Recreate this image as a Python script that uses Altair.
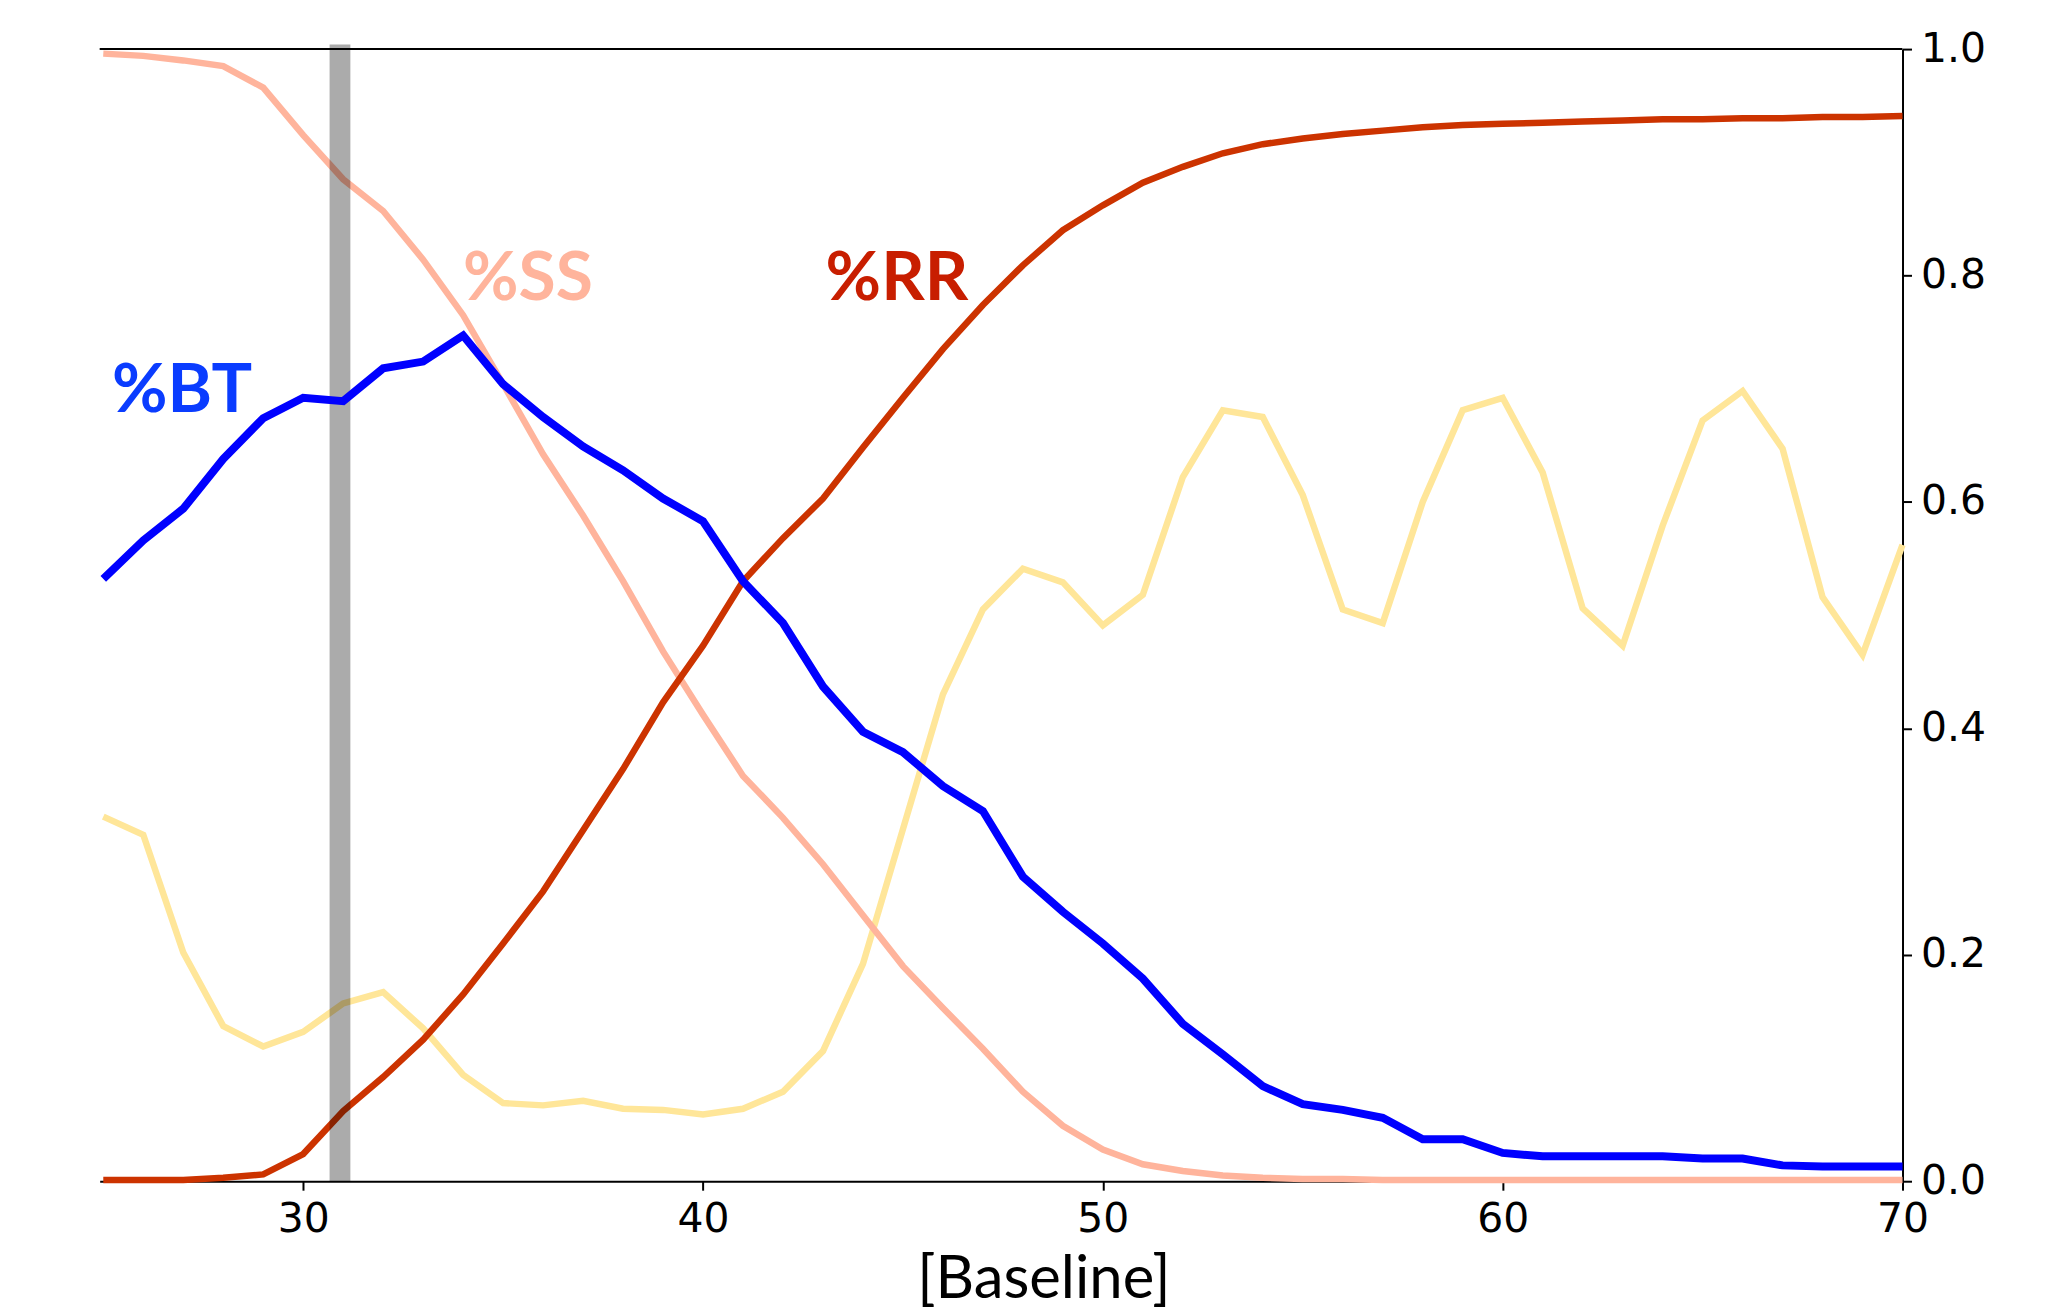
import altair as alt
import pandas as pd

# ---- data ----
baseline = list(range(25, 71))

pct_bt = [0.532, 0.566, 0.594, 0.638, 0.674, 0.692, 0.689, 0.718, 0.724, 0.747,
          0.704, 0.675, 0.649, 0.628, 0.603, 0.583, 0.530, 0.493, 0.437, 0.397,
          0.379, 0.349, 0.327, 0.269, 0.238, 0.210, 0.179, 0.139, 0.112, 0.084,
          0.068, 0.063, 0.056, 0.037, 0.037, 0.025, 0.022, 0.022, 0.022, 0.022,
          0.020, 0.020, 0.014, 0.013, 0.013, 0.013]

pct_rr = [0.001, 0.001, 0.001, 0.003, 0.006, 0.024, 0.062, 0.092, 0.125, 0.165,
          0.210, 0.256, 0.310, 0.364, 0.423, 0.473, 0.530, 0.568, 0.603, 0.648,
          0.692, 0.735, 0.774, 0.809, 0.840, 0.862, 0.882, 0.896, 0.908, 0.916,
          0.921, 0.925, 0.928, 0.931, 0.933, 0.934, 0.935, 0.936, 0.937, 0.938,
          0.938, 0.939, 0.939, 0.940, 0.940, 0.941]

pct_ss = [0.996, 0.994, 0.990, 0.985, 0.966, 0.924, 0.885, 0.857, 0.814, 0.765,
          0.704, 0.642, 0.588, 0.530, 0.468, 0.412, 0.358, 0.321, 0.280, 0.235,
          0.190, 0.153, 0.117, 0.079, 0.049, 0.028, 0.015, 0.009, 0.005, 0.003,
          0.002, 0.002, 0.001, 0.001, 0.001, 0.001, 0.001, 0.001, 0.001, 0.001,
          0.001, 0.001, 0.001, 0.001, 0.001, 0.001]

pct_other = [0.322, 0.306, 0.202, 0.137, 0.119, 0.132, 0.157, 0.167, 0.135, 0.094,
             0.069, 0.067, 0.071, 0.064, 0.063, 0.059, 0.064, 0.079, 0.115, 0.192,
             0.311, 0.430, 0.505, 0.541, 0.529, 0.491, 0.518, 0.622, 0.681, 0.675,
             0.606, 0.505, 0.493, 0.600, 0.681, 0.692, 0.626, 0.506, 0.473, 0.579,
             0.672, 0.698, 0.647, 0.516, 0.465, 0.562]

series_names = ["other", "SS", "RR", "BT"]
series_colors = ["#FFE699", "#FFB49C", "#CC3300", "#0000FF"]

x_ticks = [30, 40, 50, 60, 70]
y_ticks = [0.0, 0.2, 0.4, 0.6, 0.8, 1.0]

band_x = [30.66]
band_x2 = [31.18]

label_text = ["%BT", "%SS", "%RR"]
label_x = [26.97, 35.62, 44.85]
label_y = [0.697, 0.796, 0.796]
label_color = ["#0A3CFF", "#FFB49C", "#C81E00"]

# ---- tables ----
rows = []
for name, vals in zip(["other", "SS", "RR", "BT"], [pct_other, pct_ss, pct_rr, pct_bt]):
    for b, v in zip(baseline, vals):
        rows.append({"baseline": b, "value": v, "series": name})
df = pd.DataFrame(rows)
df_labels = pd.DataFrame({"text": label_text, "x": label_x, "y": label_y, "c": label_color})
df_band = pd.DataFrame({"x": band_x, "x2": band_x2, "y": [0.0], "y2": [1.004]})

xscale = alt.Scale(domain=[24.91, 70], nice=False, zero=False)
yscale = alt.Scale(domain=[0, 1], nice=False)
cscale = alt.Scale(domain=series_names, range=series_colors)

x_axis = alt.Axis(values=x_ticks, format="d", grid=False, labelFlush=False,
                  title="[Baseline]", titleFont="Lato", titleFontSize=60,
                  titleFontWeight="normal", titleColor="black",
                  titleX=947, titleY=117, titleBaseline="alphabetic", titleAlign="center")
y_axis = alt.Axis(values=y_ticks, format=".1f", orient="right", grid=False, title=None)


def line_layer(names, width):
    return alt.Chart(df[df.series.isin(names)]).mark_line(strokeWidth=width, strokeJoin="miter").encode(
        x=alt.X("baseline:Q", scale=xscale, axis=x_axis),
        y=alt.Y("value:Q", scale=yscale, axis=y_axis),
        color=alt.Color("series:N", scale=cscale, legend=None),
        detail="series:N",
        order=alt.Order("baseline:Q"),
    )


# draw order: other, SS, RR, band, BT
under_other = line_layer(["other"], 6.5)
under_ss = line_layer(["SS"], 6.5)
under_rr = line_layer(["RR"], 6.5)

band = alt.Chart(df_band).mark_rect(color="black", opacity=0.33).encode(
    x="x:Q", x2="x2:Q", y="y:Q", y2="y2:Q"
)

blue = line_layer(["BT"], 8)

top_rule = alt.Chart(pd.DataFrame({"y": [1.0]})).mark_rule(color="black", strokeWidth=2).encode(
    y=alt.Y("y:Q", scale=yscale, axis=y_axis)
)

labels = alt.Chart(df_labels).mark_text(
    font="Comic Sans MS, Lato", fontWeight="bold", fontSize=68, align="center", baseline="middle"
).encode(
    x=alt.X("x:Q", scale=xscale, axis=x_axis),
    y=alt.Y("y:Q", scale=yscale, axis=y_axis),
    text="text:N",
    color=alt.Color("c:N", scale=None),
)

chart = alt.layer(under_other, under_ss, under_rr, band, blue, top_rule, labels).properties(
    width=1809, height=1136,
    autosize=alt.AutoSizeParams(type="none"),
    padding={"left": 92, "top": 39, "right": 150, "bottom": 129},
).configure_view(stroke=None).configure_axis(
    domainColor="black", domainWidth=2, tickColor="black", tickWidth=2, tickSize=9,
    labelFont="DejaVu Sans", labelFontSize=41, labelColor="black", labelPadding=9,
)

chart.save("out.html", embed_options={"renderer": "svg", "actions": False})
